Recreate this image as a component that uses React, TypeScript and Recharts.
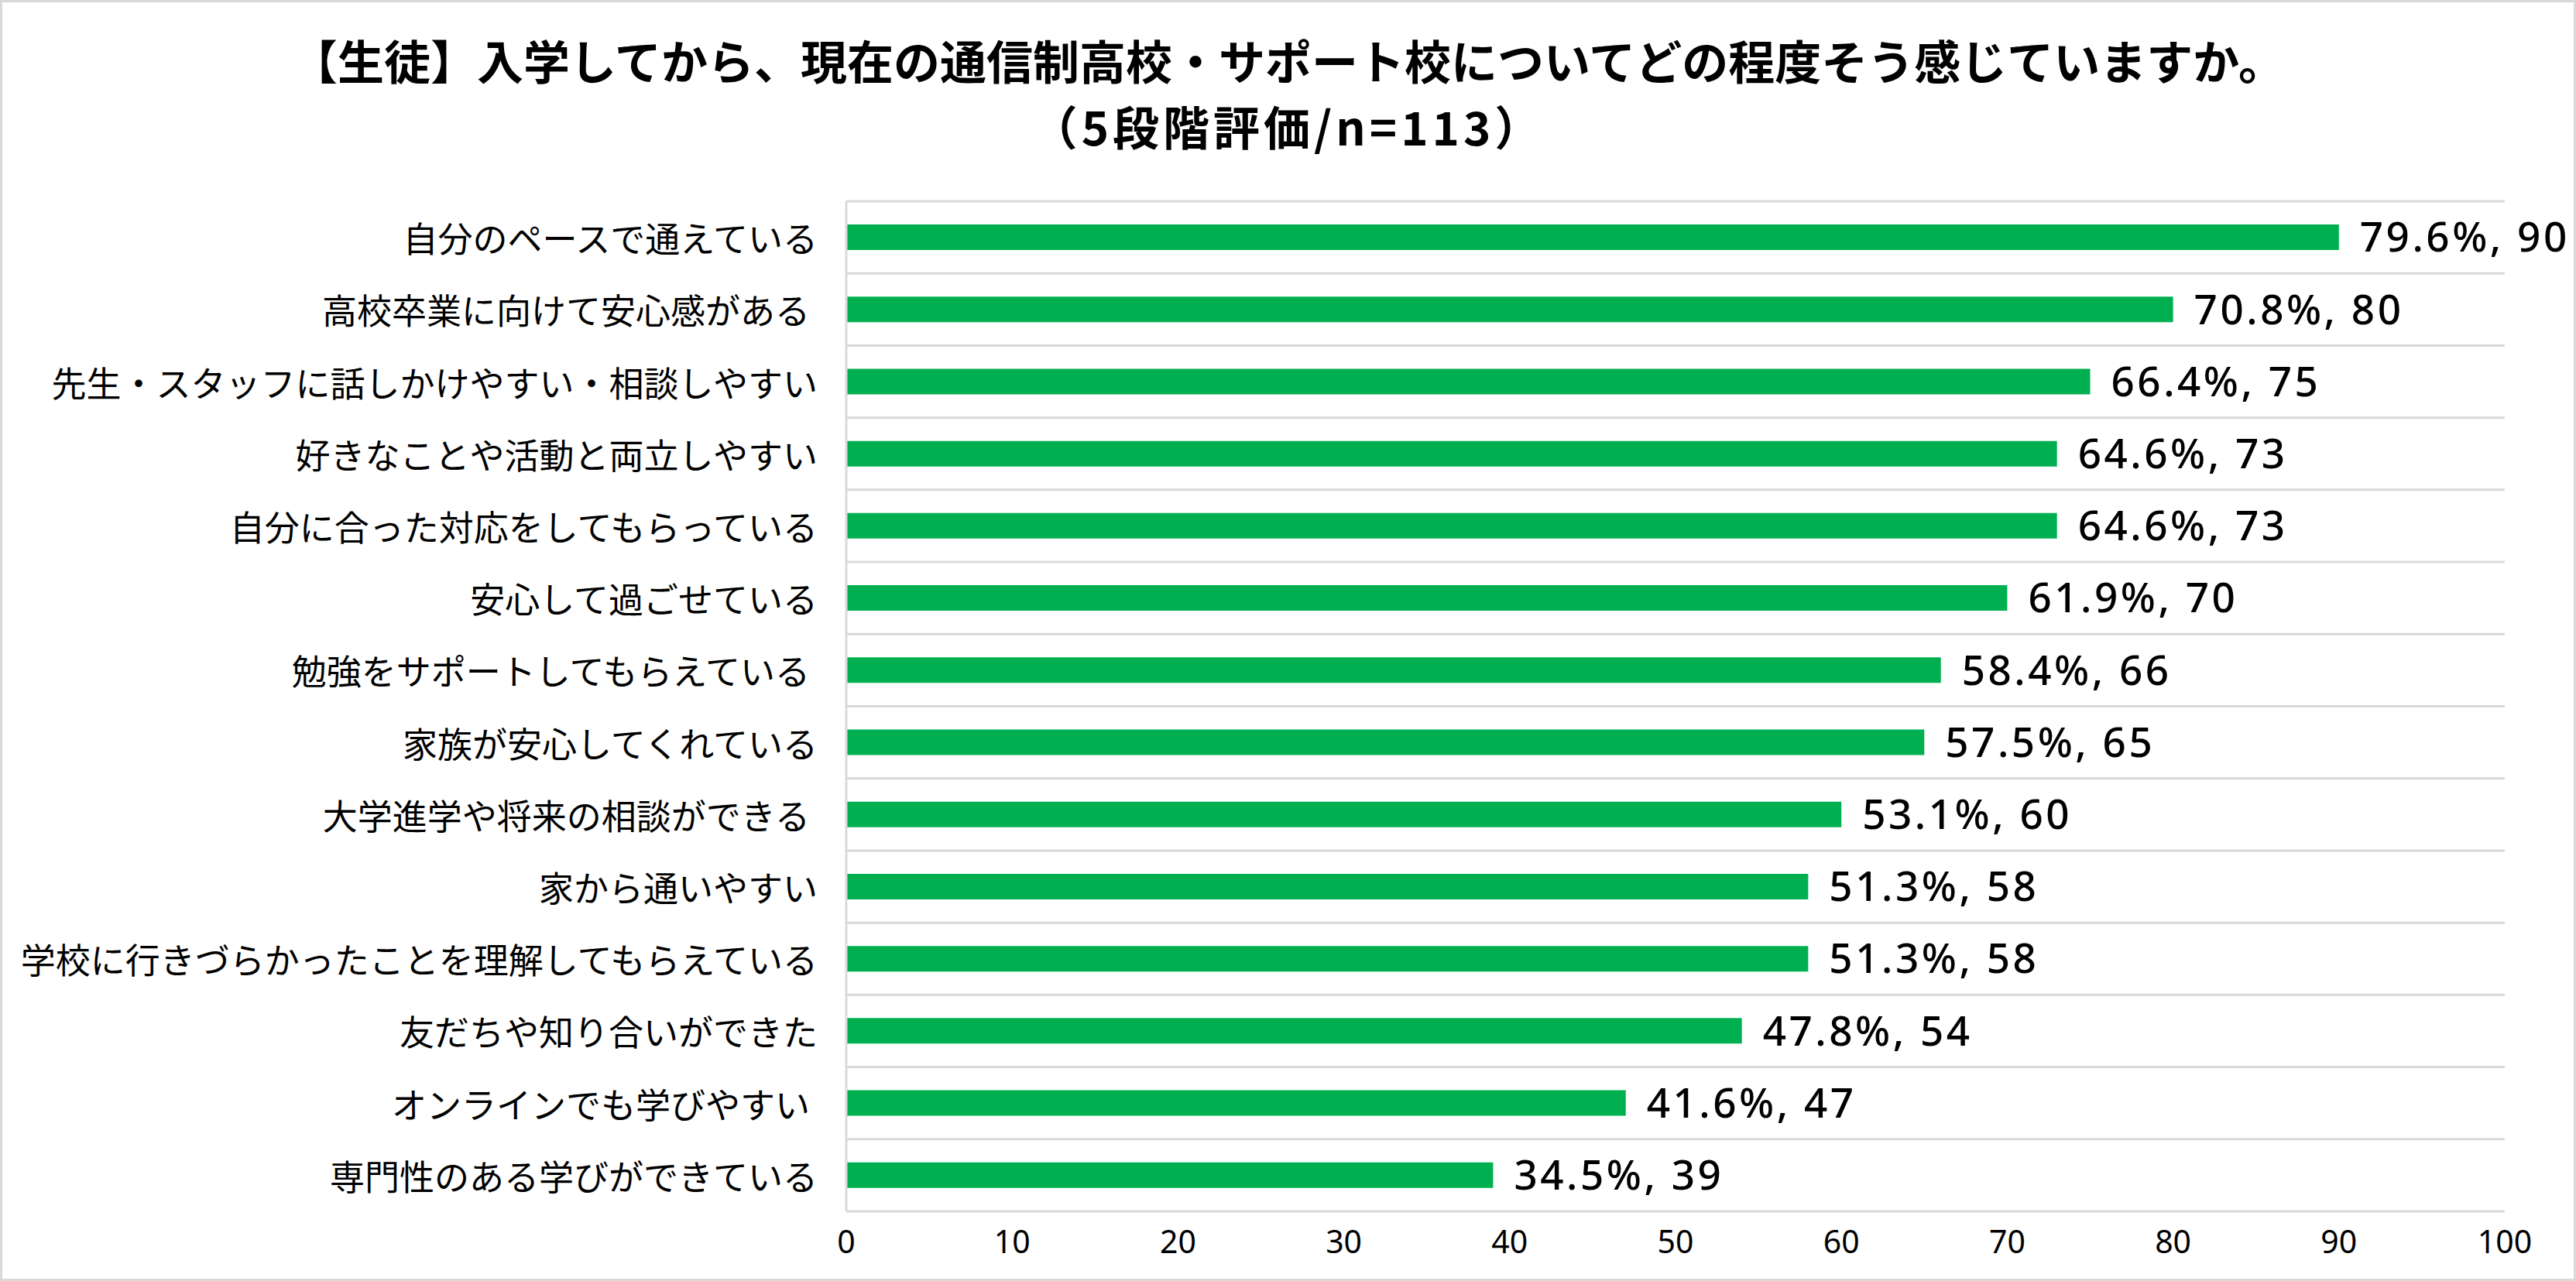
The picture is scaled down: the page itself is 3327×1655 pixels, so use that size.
import { BarChart, Bar, XAxis, YAxis, CartesianGrid, LabelList } from "recharts";

const categories = [
  "自分のペースで通えている",
  "高校卒業に向けて安心感がある ",
  "先生・スタッフに話しかけやすい・相談しやすい",
  "好きなことや活動と両立しやすい",
  "自分に合った対応をしてもらっている",
  "安心して過ごせている",
  "勉強をサポートしてもらえている ",
  "家族が安心してくれている",
  "大学進学や将来の相談ができる ",
  "家から通いやすい",
  "学校に行きづらかったことを理解してもらえている",
  "友だちや知り合いができた",
  "オンラインでも学びやすい ",
  "専門性のある学びができている",
];
const counts = [90, 80, 75, 73, 73, 70, 66, 65, 60, 58, 58, 54, 47, 39];
const percents = [79.6, 70.8, 66.4, 64.6, 64.6, 61.9, 58.4, 57.5, 53.1, 51.3, 51.3, 47.8, 41.6, 34.5];
const xTicks = [0, 10, 20, 30, 40, 50, 60, 70, 80, 90, 100];

const data = categories.map((name, i) => ({
  name,
  count: counts[i],
  label: `${percents[i].toFixed(1)}%, ${counts[i]}`,
}));

const W = 3327;
const H = 1655;
const GRID = "#D9D9D9";
const GREEN = "#00B050";
const JP = '"Noto Sans CJK JP", "Noto Sans", sans-serif';
const NUM = '"Noto Sans", "Noto Sans CJK JP", sans-serif';

function CategoryTick(props: any) {
  const { x, y, payload } = props;
  return (
    <text
      x={x}
      y={y}
      textAnchor="end"
      dominantBaseline="central"
      fill="#000"
      fontSize={45}
      fontFamily={JP}
      style={{ whiteSpace: "pre" }}
    >
      {payload.value}
    </text>
  );
}

export default function App() {
  return (
    <div style={{ position: "absolute", left: 0, top: 0, width: W, height: H, background: "#fff" }}>
      <div
        style={{
          position: "absolute",
          left: 0,
          top: 34,
          width: W,
          textAlign: "center",
          fontFamily: JP,
          fontWeight: 700,
          fontSize: 60,
          lineHeight: "85px",
          color: "#000",
        }}
      >
        <div>【生徒】入学してから、現在の通信制高校・サポート校についてどの程度そう感じていますか。</div>
        <div style={{ letterSpacing: 5 }}>（5段階評価/n=113）</div>
      </div>
      <BarChart
        width={W}
        height={H}
        data={data}
        layout="vertical"
        margin={{ top: 260, right: 92, bottom: 30, left: 0 }}
      >
        <CartesianGrid
          vertical={false}
          stroke={GRID}
          strokeWidth={3}
          horizontalCoordinatesGenerator={({ offset }: any) =>
            Array.from({ length: categories.length + 1 }, (_, i) => offset.top + (i * offset.height) / categories.length)
          }
        />
        <XAxis
          type="number"
          domain={[0, 100]}
          ticks={xTicks}
          axisLine={false}
          tickLine={false}
          tickSize={0}
          tickMargin={25}
          height={60}
          tick={{ fill: "#000", fontSize: 41, fontFamily: NUM }}
          interval={0}
        />
        <YAxis
          type="category"
          dataKey="name"
          width={1093}
          axisLine={{ stroke: GRID, strokeWidth: 3 }}
          tickLine={false}
          tickSize={0}
          tickMargin={37}
          interval={0}
          tick={<CategoryTick />}
        />
        <Bar dataKey="count" fill={GREEN} barSize={33} isAnimationActive={false}>
          <LabelList
            dataKey="label"
            position="right"
            offset={27}
            fill="#000"
            fontSize={53}
            fontWeight={500}
            letterSpacing={3.5}
            fontFamily={NUM}
          />
        </Bar>
      </BarChart>
      <div
        style={{
          position: "absolute",
          left: 0,
          top: 0,
          width: W,
          height: H,
          boxSizing: "border-box",
          border: `3px solid ${GRID}`,
          pointerEvents: "none",
        }}
      />
    </div>
  );
}
